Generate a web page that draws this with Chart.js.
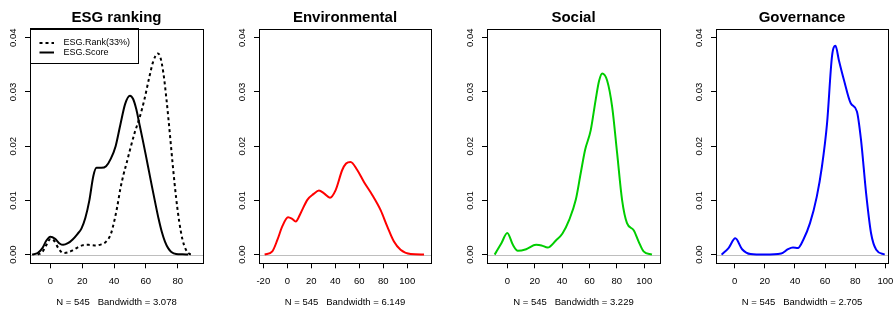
<!DOCTYPE html>
<html>
<head>
<meta charset="utf-8">
<script src="https://cdn.jsdelivr.net/npm/chart.js@4.4.1/dist/chart.umd.min.js"></script>
<style>
  html, body { margin: 0; padding: 0; background: #fff; width: 896px; height: 311px; overflow: hidden; position: relative; }
  canvas { position: absolute; top: 0; }
</style>
</head>
<body>
<canvas id="esg" width="233" height="311" style="left:0px"></canvas>
<canvas id="env" width="232" height="311" style="left:229px"></canvas>
<canvas id="soc" width="233" height="311" style="left:457px"></canvas>
<canvas id="gov" width="232" height="311" style="left:686px"></canvas>
<script>
// kernel density curves (x = score, y = density)
const yTicks = [0, 0.01, 0.02, 0.03, 0.04];

const rankX = [-8, -5, -2.5, 0, 2.5, 5, 8, 11, 14, 17, 20, 24, 28, 32, 35, 38, 40, 42, 44, 46, 48, 50, 53, 56, 59, 62, 64.5, 67.5, 69, 71, 73, 75, 77, 79, 81, 83, 85, 87, 89];
const rankY = [0, 0.0005, 0.0018, 0.0029, 0.0025, 0.0012, 0.0003, 0.0004, 0.0008, 0.0013, 0.0017, 0.0018, 0.0017, 0.0019, 0.0024, 0.0038, 0.006, 0.0088, 0.0122, 0.0148, 0.017, 0.0193, 0.0225, 0.0252, 0.0285, 0.0325, 0.0355, 0.0371, 0.0365, 0.0335, 0.0285, 0.0225, 0.0162, 0.0105, 0.006, 0.0028, 0.001, 0.0002, 0];

const scoreX = [-11.5, -8, -5, -2.5, 0, 3, 6, 8, 11, 14, 17, 19.5, 22, 24.5, 27, 29, 32, 35, 38, 41, 44, 47, 50, 52, 54, 56, 58, 60, 62, 64, 66, 68, 70, 72, 74, 76, 79, 83, 86.5];
const scoreY = [0, 0.0003, 0.0012, 0.0026, 0.0033, 0.0029, 0.002, 0.0018, 0.0021, 0.0028, 0.0038, 0.0048, 0.0068, 0.01, 0.0145, 0.016, 0.016, 0.0163, 0.0177, 0.02, 0.024, 0.0278, 0.0293, 0.0287, 0.0268, 0.024, 0.0212, 0.0183, 0.0153, 0.0123, 0.0094, 0.0066, 0.0042, 0.0024, 0.0012, 0.0005, 0.0001, 0.00005, 0];

const envX = [-18.9, -12.5, -8.3, -4.2, 0.6, 4, 7, 11, 16.7, 22, 26.4, 30.6, 35.6, 40.3, 45.8, 49, 52.8, 58.3, 63.9, 70.8, 77.8, 83.3, 88.9, 94.4, 102.8, 114];
const envY = [0, 0.0006, 0.0027, 0.0052, 0.0069, 0.0066, 0.0061, 0.0076, 0.0101, 0.0112, 0.0118, 0.0113, 0.0105, 0.0119, 0.0156, 0.0168, 0.0171, 0.0156, 0.0134, 0.011, 0.0082, 0.0052, 0.0024, 0.0009, 0.0001, 0];

const socX = [-9.2, -4.3, 0, 4.1, 7.7, 13.8, 21, 25, 29.5, 35.5, 40.3, 45.2, 50, 53.6, 56.8, 60.9, 64.5, 67, 69.3, 72.9, 76.6, 80.2, 83.8, 87.4, 92.3, 95.9, 99.5, 105.6];
const socY = [0, 0.0021, 0.004, 0.0018, 0.0007, 0.001, 0.0018, 0.0017, 0.0013, 0.0026, 0.0039, 0.0064, 0.0101, 0.015, 0.0193, 0.0229, 0.0285, 0.032, 0.0334, 0.0321, 0.0272, 0.0187, 0.0101, 0.0058, 0.0045, 0.0024, 0.0006, 0];

const govX = [-8.6, -4, 0.5, 5, 10.6, 20, 30.9, 35.4, 38.7, 42, 45.5, 50, 54.5, 57.9, 61.3, 64.6, 66.9, 69.1, 72.5, 77, 81.1, 83.8, 87.2, 90.5, 93.9, 99.5];
const govY = [0, 0.0012, 0.003, 0.001, 0.0001, 0, 0.0002, 0.001, 0.0013, 0.0012, 0.0027, 0.0058, 0.0107, 0.0162, 0.0242, 0.0366, 0.0385, 0.0359, 0.0322, 0.0279, 0.0264, 0.0212, 0.0113, 0.0039, 0.0009, 0];

const FONT = "'Liberation Sans', Arial, Helvetica, sans-serif";

function pts(xs, ys) {
    return xs.map((x, i) => ({ x: x, y: ys[i] }));
}

// R-like decorations: gray zero line, box around the plot, boxed legend
const rFrame = {
    id: 'rFrame',
    beforeDatasetsDraw(chart) {
        const { ctx, chartArea: a, scales } = chart;
        const y0 = Math.round(scales.y.getPixelForValue(0)) + 0.5;
        ctx.save();
        ctx.strokeStyle = '#BEBEBE';
        ctx.lineWidth = 1;
        ctx.beginPath();
        ctx.moveTo(a.left, y0);
        ctx.lineTo(a.right, y0);
        ctx.stroke();
        ctx.restore();
    },
    afterDatasetsDraw(chart, args, opts) {
        const { ctx, chartArea: a } = chart;
        const l = Math.round(a.left) + 0.5, t = Math.round(a.top) + 0.5;
        const r = Math.round(a.right) + 0.5, b = Math.round(a.bottom) + 0.5;
        ctx.save();
        ctx.strokeStyle = '#000';
        ctx.lineWidth = 1;
        ctx.strokeRect(l, t, r - l, b - t);
        if (opts.legend) {
            ctx.strokeRect(l, t - 1, 108, 35);
            ctx.font = '9px ' + FONT;
            ctx.textBaseline = 'middle';
            ctx.fillStyle = '#000';
            chart.data.datasets.forEach((ds, i) => {
                const cy = t + 13.5 + i * 9.5;
                ctx.setLineDash(ds.borderDash || []);
                ctx.lineWidth = 2;
                ctx.strokeStyle = ds.borderColor;
                ctx.beginPath();
                ctx.moveTo(l + 9, cy);
                ctx.lineTo(l + 23.5, cy);
                ctx.stroke();
                ctx.setLineDash([]);
                ctx.fillText(ds.label, l + 33, cy);
            });
        }
        ctx.restore();
    }
};

function densityPanel(id, title, subtitle, xMin, xMax, xTicks, datasets, legend) {
    const tickFont = { family: FONT, size: 9.5 };
    return new Chart(id, {
        type: 'line',
        data: { datasets: datasets },
        options: {
            responsive: false,
            animation: false,
            layout: { padding: 0 },
            elements: {
                point: { radius: 0 },
                line: { borderWidth: 2, cubicInterpolationMode: 'monotone' }
            },
            plugins: {
                legend: { display: false },
                tooltip: { enabled: false },
                title: {
                    display: true, text: title, color: '#000',
                    font: { family: FONT, size: 15, weight: 'bold' },
                    padding: { top: 8.5, bottom: 2.5 }
                },
                subtitle: {
                    display: true, position: 'bottom', text: subtitle, color: '#000',
                    font: tickFont,
                    padding: { top: 3.5, bottom: 2.8 }
                },
                rFrame: { legend: legend }
            },
            scales: {
                x: {
                    type: 'linear', min: xMin, max: xMax,
                    afterBuildTicks: (s) => { s.ticks = xTicks.map((v) => ({ value: v })); },
                    afterFit: (s) => { s.height = 30; },
                    border: { display: false },
                    grid: { drawOnChartArea: false, drawTicks: true, tickLength: 5, color: '#000' },
                    ticks: { color: '#000', font: tickFont, padding: 7.5, maxRotation: 0, autoSkip: false }
                },
                y: {
                    type: 'linear', min: -0.0016, max: 0.0416,
                    afterBuildTicks: (s) => { s.ticks = yTicks.map((v) => ({ value: v })); },
                    afterFit: (s) => { s.width = 30; },
                    border: { display: false },
                    grid: { drawOnChartArea: false, drawTicks: true, tickLength: 5, color: '#000' },
                    ticks: {
                        color: '#000', font: tickFont, padding: 2.5, autoSkip: false,
                        minRotation: 90, maxRotation: 90, crossAlign: 'center',
                        callback: (v) => v.toFixed(2)
                    }
                },
                // empty right margin so titles centre over the plot box
                yr: {
                    type: 'linear', position: 'right', display: true,
                    afterFit: (s) => { s.width = 30; },
                    border: { display: false },
                    grid: { display: false },
                    ticks: { display: false }
                }
            }
        },
        plugins: [rFrame]
    });
}

densityPanel('esg', 'ESG ranking', 'N = 545   Bandwidth = 3.078', -12.8, 95.9, [0, 20, 40, 60, 80], [
    { label: 'ESG.Rank(33%)', data: pts(rankX, rankY), borderColor: '#000', borderDash: [3, 3] },
    { label: 'ESG.Score', data: pts(scoreX, scoreY), borderColor: '#000' }
], true);

densityPanel('env', 'Environmental', 'N = 545   Bandwidth = 6.149', -23.6, 119.8, [-20, 0, 20, 40, 60, 80, 100], [
    { label: 'Environmental', data: pts(envX, envY), borderColor: '#FF0000' }
], false);

densityPanel('soc', 'Social', 'N = 545   Bandwidth = 3.229', -14.8, 111.5, [0, 20, 40, 60, 80, 100], [
    { label: 'Social', data: pts(socX, socY), borderColor: '#00CD00' }
], false);

densityPanel('gov', 'Governance', 'N = 545   Bandwidth = 2.705', -12.3, 101.7, [0, 20, 40, 60, 80, 100], [
    { label: 'Governance', data: pts(govX, govY), borderColor: '#0000FF' }
], false);
</script>
</body>
</html>
